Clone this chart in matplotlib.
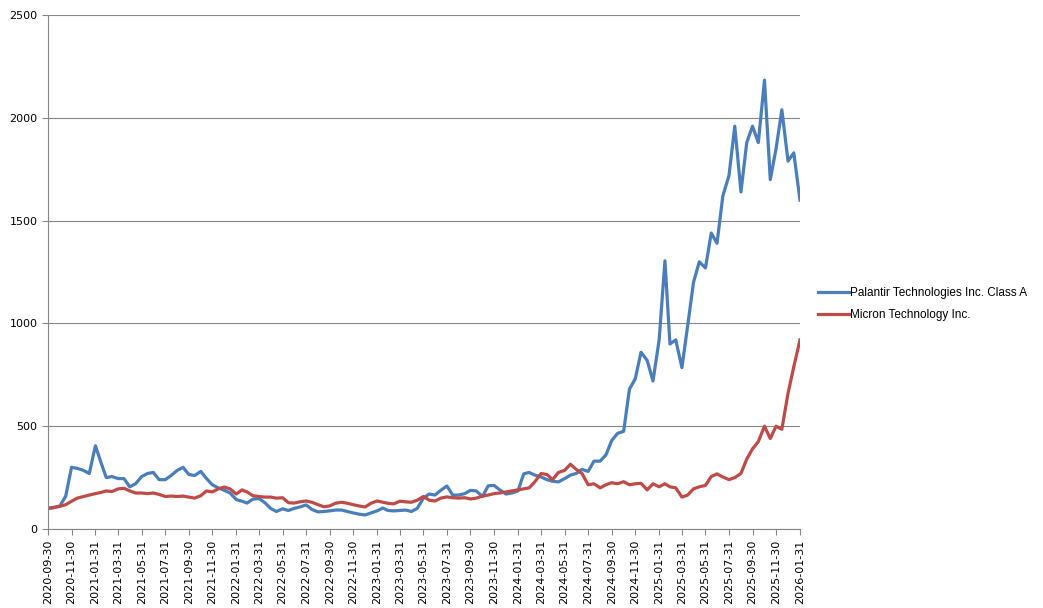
import numpy as np
import pandas as pd
import matplotlib
matplotlib.use("Agg")
import matplotlib.pyplot as plt

# Series names
pltr_name = "Palantir Technologies Inc. Class A"
mu_name = "Micron Technology Inc."

# Semi-monthly readings (15th and month end), from 2020-09-30 to 2026-01-31
pltr = [100, 104, 112, 160, 300, 295, 285, 270, 405, 320,
        250, 255, 245, 245, 205, 220, 255, 270, 275, 240,
        240, 260, 285, 300, 265, 260, 280, 245, 215, 200,
        188, 175, 143, 135, 126, 145, 148, 128, 100, 85,
        98, 90, 100, 107, 117, 95, 83, 85, 88, 92,
        92, 85, 78, 72, 68, 78, 88, 102, 90, 88,
        90, 92, 85, 100, 150, 170, 165, 188, 209, 165,
        165, 172, 188, 185, 158, 210, 212, 190, 170, 175,
        185, 268, 275, 262, 253, 240, 232, 229, 245, 262,
        270, 290, 280, 330, 330, 360, 430, 465, 475, 680,
        730, 860, 820, 720, 920, 1305, 900, 920, 785, 990,
        1200, 1300, 1270, 1440, 1390, 1620, 1720, 1960, 1640, 1880,
        1960, 1880, 2184, 1700, 1850, 2040, 1790, 1830, 1600]

mu = [100, 105, 110, 118, 135, 150, 158, 165, 172, 178,
      185, 182, 195, 198, 185, 175, 175, 172, 175, 168,
      158, 160, 158, 160, 155, 150, 162, 185, 180, 195,
      204, 195, 170, 190, 180, 162, 158, 155, 155, 150,
      152, 128, 126, 132, 136, 130, 118, 108, 112, 125,
      130, 125, 118, 112, 107, 125, 136, 130, 125, 122,
      135, 132, 130, 140, 158, 140, 136, 150, 156, 152,
      150, 152, 146, 150, 160, 165, 172, 175, 180, 185,
      190, 195, 200, 230, 270, 265, 240, 275, 285, 315,
      290, 270, 215, 220, 200, 215, 225, 220, 230, 215,
      220, 222, 190, 220, 205, 220, 205, 200, 155, 165,
      195, 205, 212, 255, 268, 253, 240, 250, 270, 340,
      390, 425, 500, 440, 500, 485, 660, 790, 920]

month_ends = pd.date_range("2020-09-30", periods=65, freq=pd.offsets.MonthEnd())
mid_months = month_ends[:-1] + pd.Timedelta(days=15)
dates = month_ends.append(mid_months).sort_values()

blue = "#4A7EBB"
red = "#BE4B48"
grey = "#868686"

fig = plt.figure(figsize=(10.43, 6.08), dpi=100)
ax = fig.add_axes([0.046, 0.130, 0.721, 0.845])

ax.plot(dates, pltr, color=blue, lw=2.3, label=pltr_name)
ax.plot(dates, mu, color=red, lw=2.3, label=mu_name)

ax.set_xlim(month_ends[0], month_ends[-1])
ax.set_ylim(0, 2500)
ax.set_yticks(np.arange(0, 2501, 500))
ax.set_xticks(month_ends[::2])
ax.set_xticklabels([d.strftime("%Y-%m-%d") for d in month_ends[::2]], rotation=90)

ax.grid(axis="y", color=grey, lw=0.8)
ax.set_axisbelow(True)
for s in ["top", "right"]:
    ax.spines[s].set_visible(False)
for s in ["left", "bottom"]:
    ax.spines[s].set_color(grey)
    ax.spines[s].set_linewidth(0.8)
ax.tick_params(axis="both", colors=grey, length=4, width=0.8, labelsize=8, labelcolor="black")

fig.legend(loc="center left", bbox_to_anchor=(0.774, 0.5), frameon=False,
           handlelength=2.6, handletextpad=0.1, labelspacing=0.9,
           prop={"family": "Liberation Sans", "size": 8.5})

fig.savefig("out.png", dpi=100)
